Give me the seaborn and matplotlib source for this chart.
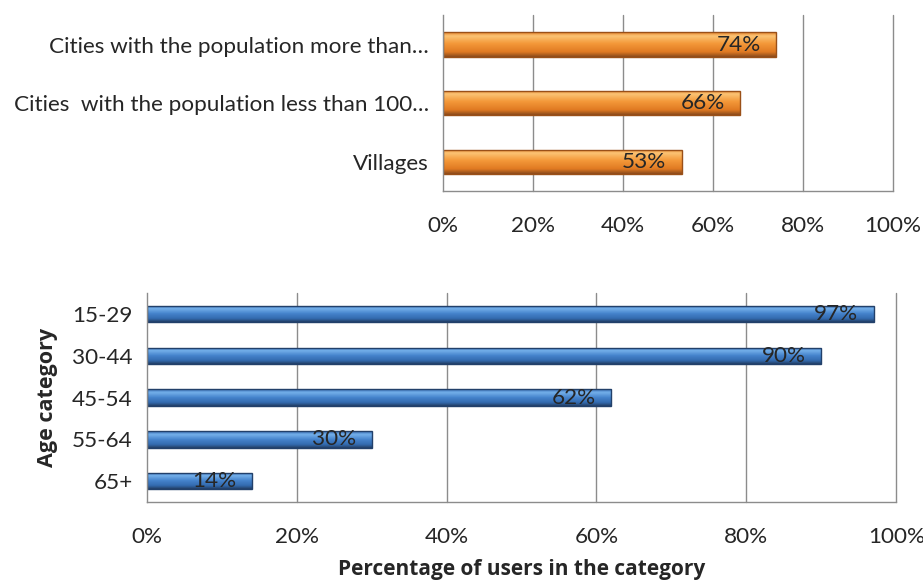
import matplotlib
matplotlib.use("Agg")
import matplotlib.pyplot as plt
from matplotlib.colors import LinearSegmentedColormap
import seaborn as sns
import numpy as np
import pandas as pd

settlement = ["Cities with the population more than\u2026",
              "Cities  with the population less than 100\u2026",
              "Villages"]
settlement_share = [74, 66, 53]

age_groups = ["15-29", "30-44", "45-54", "55-64", "65+"]
age_share = [97, 90, 62, 30, 14]

orange_grad = LinearSegmentedColormap.from_list(
    "og", [(0, "#E8862E"), (0.15, "#FBC374"), (0.45, "#F4993A"),
           (0.8, "#E07A22"), (1, "#8A4A1C")])
blue_grad = LinearSegmentedColormap.from_list(
    "bg", [(0, "#3A6FB5"), (0.2, "#74B0EA"), (0.5, "#4583CC"),
           (0.8, "#336AAE"), (1, "#233F66")])

sns.set_style("white")
plt.rcParams["font.family"] = ["Lato", "DejaVu Sans"]
FS = 16.2
BOLD_FONT = ["Open Sans", "DejaVu Sans"]

fig = plt.figure(figsize=(9.23, 5.83), dpi=100)
ax1 = fig.add_axes([0.480, 0.672, 0.4875, 0.302])
ax2 = fig.add_axes([0.159, 0.139, 0.812, 0.358])

df1 = pd.DataFrame({"cat": settlement, "val": settlement_share})
df2 = pd.DataFrame({"cat": age_groups, "val": age_share})

sns.barplot(data=df1, x="val", y="cat", ax=ax1, color="#F38B2E",
            width=0.41, edgecolor="#9A5018", linewidth=1.0, saturation=1)
sns.barplot(data=df2, x="val", y="cat", ax=ax2, color="#4A80C4",
            width=0.4, edgecolor="#22406A", linewidth=1.0, saturation=1)


def shade(ax, cmap):
    grad = np.linspace(0, 1, 64).reshape(-1, 1)
    for p in list(ax.patches):
        x0, y0 = p.get_x(), p.get_y()
        w, h = p.get_width(), p.get_height()
        ymin, ymax = min(y0, y0 + h), max(y0, y0 + h)
        im = ax.imshow(grad, cmap=cmap, aspect="auto",
                       extent=(x0, x0 + w, ymax, ymin), origin="upper",
                       zorder=p.get_zorder())
        im.set_clip_path(p)
        p.set_facecolor("none")
        p.set_zorder(p.get_zorder() + 0.1)


def style(ax, labels, vals):
    n = len(labels)
    ax.set_xlim(0, 100)
    ax.set_ylim(n - 0.5, -0.5)
    ax.set_xticks(range(0, 101, 20))
    ax.set_xticklabels([f"{t}%" for t in range(0, 101, 20)])
    for t in range(20, 101, 20):
        ax.axvline(t, color="#8C8C8C", linewidth=1.0, zorder=0.5,
                   clip_on=False)
    for s in ["top", "right"]:
        ax.spines[s].set_visible(False)
    for s in ["left", "bottom"]:
        ax.spines[s].set_color("#8C8C8C")
        ax.spines[s].set_linewidth(1.0)
    ax.set_yticks([i - 0.5 for i in range(n + 1)], minor=False)
    ax.set_yticklabels([])
    ax.set_yticks(range(n), minor=True)
    ax.set_yticklabels(labels, minor=True)
    ax.tick_params(axis="y", which="major", length=7, color="#8C8C8C",
                   direction="out", width=1.0)
    ax.tick_params(axis="y", which="minor", length=0, labelsize=FS, pad=10)
    ax.tick_params(axis="x", length=7, color="#8C8C8C", direction="out",
                   labelsize=FS, pad=11, width=1.0)
    ax.set_ylabel("")
    ax.set_xlabel("")
    for i, v in enumerate(vals):
        ax.annotate(f"{v}%", (v, i), xytext=(-11, 0),
                    textcoords="offset points", ha="right", va="center",
                    fontsize=FS, zorder=5)


shade(ax1, orange_grad)
shade(ax2, blue_grad)
style(ax1, settlement, settlement_share)
style(ax2, age_groups, age_share)

ax2.set_xlabel("Percentage of users in the category", fontsize=15,
               fontweight="bold", labelpad=9, family=BOLD_FONT)
ax2.set_ylabel("Age category", fontsize=15.5, fontweight="bold", labelpad=10,
               family=BOLD_FONT)

fig.savefig("out.png", dpi=100)
